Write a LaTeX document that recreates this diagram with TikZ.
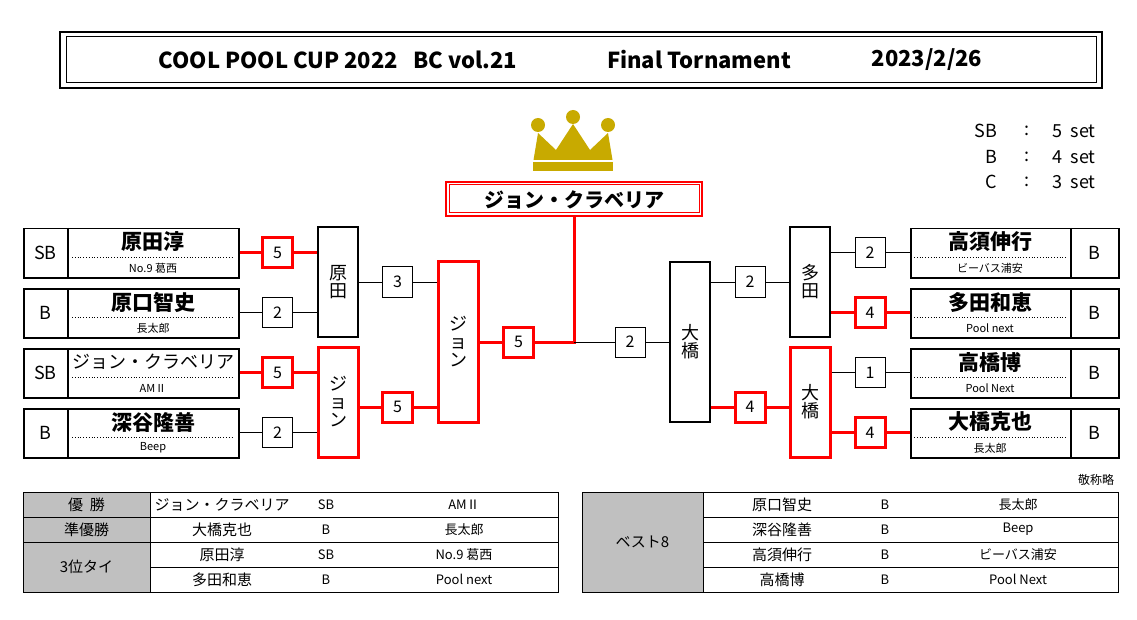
\documentclass[tikz,border=0pt]{standalone}
\usepackage{fontspec}
\setmainfont{Noto Sans CJK JP}
\usetikzlibrary{positioning,calc}
\definecolor{gold}{RGB}{200,170,0}
\definecolor{cellgray}{RGB}{192,192,192}
\newcommand{\fs}[1]{\fontsize{#1}{#1}\selectfont}
\tikzset{
  px/.style={x=1pt,y=-1pt},
  sbox/.style={draw,line width=1pt,minimum width=30,minimum height=30,inner sep=0,font=\fs{16}},
  win/.style={draw=red,line width=3pt},
  lose/.style={draw=black,line width=1pt},
  rbox/.style={draw,line width=1.2pt,minimum width=40,inner sep=0,align=center,font=\fs{18}},
  pbox/.style={draw,line width=1.5pt,minimum height=49,inner sep=0},
  cell/.style={font=\fs{15},inner sep=0},
  ttl/.style={font=\fs{22}\bfseries}
}
\begin{document}
\begin{tikzpicture}[px]
\useasboundingbox (0,0) rectangle (1137,620);
% title
\draw[line width=1.5pt] (60,32) rectangle (1102,88);
\draw[line width=1pt] (66,37) rectangle (1096,83);
\node[ttl] (ttl1) at (338,60) {COOL\ POOL\ CUP\ 2022\ \ \ BC\ vol.21};
\node[ttl] (ttl2) at (699,60) {Final\ Tornament};
\node[ttl] (ttl3) at (927,60) {2023/2/26};
% crown
\fill[gold] (533,163) -- (538,133) -- (556,150) -- (573,124) -- (590,150) -- (608,133) -- (613,163) -- cycle;
\fill[gold] (533,161) rectangle (613,171);
\fill[white] (533,160) rectangle (613,162.5);
\fill[gold] (538,125) circle (7) (573,117) circle (7) (608,125) circle (7);
% legend
\foreach \y/\c/\n in {131/SB/5,157/B/4,182/C/3}{
  \node[font=\fs{18},anchor=east] at (1001,\y) {\c};
  \node[font=\fs{18}] at (1027,\y) {:};
  \node[font=\fs{18},anchor=west] at (1049,\y) {\n\ \ set};
}
% champion
\draw[red,line width=1.2pt] (446,182) rectangle (702,216);
\draw[red,line width=1pt] (449,185) rectangle (699,213);
\node[font=\fs{20}\bfseries] (champ) at (574,199.5) {ジョン・クラベリア};
\coordinate (cs) at (574,216);
% left players
\foreach \n/\y/\s/\p/\c/\b in {p1/228/SB/原田淳/No.9 葛西/1,p2/288/B/原口智史/長太郎/1,p3/348/SB/ジョン・クラベリア/AMⅡ/0,p4/408/B/深谷隆善/Beep/1}{
  \node[pbox,minimum width=215,anchor=north west] (\n) at (23,\y) {};
  \draw[line width=1.2pt] (68,\y) -- ++(0,49);
  \node[font=\fs{18}] at (45.5,\y+24.5) {\s};
  \draw[dotted,line width=0.8pt] (72,\y+29) -- (232,\y+29);
  \node[font=\fs{11}] at (153,\y+40) {\c};
  \ifnum\b=1 \node[font=\fs{21}\bfseries] at (153,\y+14) {\p};
  \else \node[font=\fs{18}] at (153,\y+14) {\p}; \fi
}
% right players
\foreach \n/\y/\s/\p/\c in {p5/228/B/高須伸行/ビーバス浦安,p6/288/B/多田和恵/Pool next,p7/348/B/高橋博/Pool Next,p8/408/B/大橋克也/長太郎}{
  \node[pbox,minimum width=208,anchor=north west] (\n) at (910,\y) {};
  \draw[line width=1.2pt] (1071,\y) -- ++(0,49);
  \node[font=\fs{18}] at (1094.5,\y+24.5) {\s};
  \draw[dotted,line width=0.8pt] (914,\y+29) -- (1066,\y+29);
  \node[font=\fs{11}] at (990,\y+40) {\c};
  \node[font=\fs{21}\bfseries] at (990,\y+14) {\p};
}
% round boxes
\node[rbox,minimum height=110] (r1) at (338,282) {原\\田};
\node[rbox,minimum height=110,win] (r2) at (338,402) {ジ\\ョ\\ン};
\node[rbox,minimum height=160,win] (sf1) at (458,342) {ジ\\ョ\\ン};
\node[rbox,minimum height=160] (sf2) at (690,342) {大\\橋};
\node[rbox,minimum height=110] (r3) at (810,282) {多\\田};
\node[rbox,minimum height=110,win] (r4) at (810,402) {大\\橋};
% scores
\node[sbox,win] (s1) at (277.5,252.5) {5};
\node[sbox] (s2) at (277.5,312.5) {2};
\node[sbox,win] (s3) at (277.5,372.5) {5};
\node[sbox] (s4) at (277.5,432.5) {2};
\node[sbox] (s5) at (397.5,282) {3};
\node[sbox,win] (s6) at (397.5,407) {5};
\node[sbox,win] (s7) at (518.5,342) {5};
\node[sbox] (s8) at (630,342) {2};
\node[sbox] (s9) at (750,282) {2};
\node[sbox,win] (s10) at (750,407) {4};
\node[sbox] (s11) at (870,252.5) {2};
\node[sbox,win] (s12) at (870,312.5) {4};
\node[sbox] (s13) at (870,372.5) {1};
\node[sbox,win] (s14) at (870,432.5) {4};
% connectors
\draw[win] (s1 -| p1.east) -- (s1) -- (s1 -| r1.west);
\draw[lose] (s2 -| p2.east) -- (s2) -- (s2 -| r1.west);
\draw[win] (s3 -| p3.east) -- (s3) -- (s3 -| r2.west);
\draw[lose] (s4 -| p4.east) -- (s4) -- (s4 -| r2.west);
\draw[lose] (s5 -| r1.east) -- (s5) -- (s5 -| sf1.west);
\draw[win] (s6 -| r2.east) -- (s6) -- (s6 -| sf1.west);
\coordinate (jn) at (574,342);
\draw[win] (s7 -| sf1.east) -- (s7) -- (jn) -- (cs);
\draw[lose] (jn) -- (s8) -- (s8 -| sf2.west);
\draw[lose] (s9 -| sf2.east) -- (s9) -- (s9 -| r3.west);
\draw[win] (s10 -| sf2.east) -- (s10) -- (s10 -| r4.west);
\draw[lose] (s11 -| r3.east) -- (s11) -- (s11 -| p5.west);
\draw[win] (s12 -| r3.east) -- (s12) -- (s12 -| p6.west);
\draw[lose] (s13 -| r4.east) -- (s13) -- (s13 -| p7.west);
\draw[win] (s14 -| r4.east) -- (s14) -- (s14 -| p8.west);
\node[font=\fs{12}] (note) at (1096,480) {敬称略};
% result tables
\fill[cellgray] (23,492) rectangle (150,592);
\fill[cellgray] (582,492) rectangle (703,592);
\draw[line width=1pt] (23,492) rectangle (558,592);
\draw[line width=1pt] (582,492) rectangle (1118,592);
\draw[line width=1pt] (150,492) -- (150,592) (703,492) -- (703,592);
\draw[line width=1pt] (23,517) -- (558,517) (23,542) -- (558,542) (150,567) -- (558,567);
\foreach \y in {517,542,567} \draw[line width=1pt] (703,\y) -- (1118,\y);
\node[cell] at (86.5,504.5) {優\ \ 勝};
\node[cell] at (86.5,529.5) {準優勝};
\node[cell] at (86.5,567) {3位タイ};
\node[cell] at (642.5,542) {ベスト8};
\foreach \y/\p/\s/\c in {504.5/ジョン・クラベリア/SB/AMⅡ,529.5/大橋克也/B/長太郎,554.5/原田淳/SB/No.9 葛西,579.5/多田和恵/B/Pool next}{
  \node[cell] at (222,\y) {\p};
  \node[cell,font=\fs{13}] at (326,\y) {\s};
  \node[cell,font=\fs{13}] at (464,\y) {\c};
}
\foreach \y/\p/\s/\c in {504.5/原口智史/B/長太郎,529.5/深谷隆善/B/Beep,554.5/高須伸行/B/ビーバス浦安,579.5/高橋博/B/Pool Next}{
  \node[cell] at (782,\y) {\p};
  \node[cell,font=\fs{13}] at (885,\y) {\s};
  \node[cell,font=\fs{13}] at (1018,\y) {\c};
}
\end{tikzpicture}
\end{document}
